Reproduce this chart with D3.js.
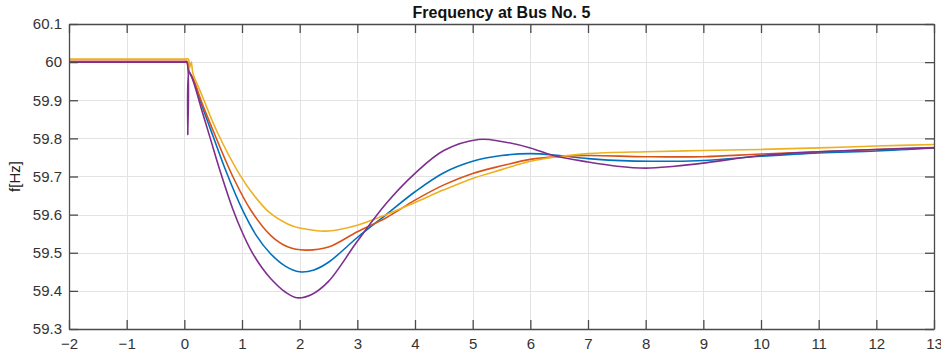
<!DOCTYPE html>
<head>
    <meta charset="utf-8">
    <script src="https://d3js.org/d3.v7.min.js"></script>
    <style>
        body { margin: 0; background: #fff; }
        text { font-family: "Liberation Sans", Arial, sans-serif; }
    </style>
</head>
<body>
    <script>
        ////////////// Data //////////////

        const x_ticks = [-2, -1, 0, 1, 2, 3, 4, 5, 6, 7, 8, 9, 10, 11, 12, 13]
        const y_ticks = [59.3, 59.4, 59.5, 59.6, 59.7, 59.8, 59.9, 60, 60.1]
        const y_tick_labels = ["59.3", "59.4", "59.5", "59.6", "59.7", "59.8", "59.9", "60", "60.1"]

        //time [s], frequency [Hz]
        const blue_t = [-2, -1, 0, 0.05, 0.08, 0.15, 0.3, 0.5, 0.72, 1.0, 1.25, 1.48, 1.75, 2.0, 2.25, 2.5, 3.0, 3.5, 4.0, 4.5, 5.0, 5.5, 6.0, 6.5, 7.0, 7.7, 8.5, 9.0, 10, 11, 12, 13]
        const blue_f = [60.0, 60.0, 60.0, 60.0, 59.975, 59.955, 59.888, 59.805, 59.715, 59.615, 59.545, 59.5, 59.465, 59.45, 59.455, 59.475, 59.54, 59.6, 59.66, 59.71, 59.74, 59.755, 59.76, 59.755, 59.747, 59.741, 59.74, 59.742, 59.753, 59.762, 59.767, 59.775]

        const orange_t = [-2, -1, 0, 0.05, 0.08, 0.15, 0.3, 0.5, 0.84, 1.16, 1.5, 1.8, 2.1, 2.5, 3.0, 3.5, 4.0, 4.5, 5.0, 5.5, 6.0, 6.5, 7.0, 8.0, 9.0, 10, 11, 12, 13]
        const orange_f = [60.002, 60.002, 60.002, 60.002, 59.975, 59.958, 59.895, 59.82, 59.7, 59.61, 59.545, 59.515, 59.507, 59.515, 59.555, 59.592, 59.638, 59.678, 59.708, 59.728, 59.745, 59.752, 59.755, 59.752, 59.752, 59.759, 59.765, 59.771, 59.776]

        const yellow_t = [-2, -1, 0, 0.07, 0.09, 0.12, 0.15, 0.3, 0.56, 0.96, 1.2, 1.48, 1.8, 2.0, 2.5, 3.0, 3.5, 4.0, 4.5, 5.0, 5.5, 6.0, 6.5, 7.0, 8.0, 9.0, 10, 11, 12, 13]
        const yellow_f = [60.008, 60.008, 60.008, 60.008, 59.985, 60.0, 59.97, 59.915, 59.82, 59.705, 59.652, 59.605, 59.575, 59.565, 59.557, 59.572, 59.6, 59.632, 59.665, 59.695, 59.718, 59.74, 59.752, 59.76, 59.765, 59.768, 59.771, 59.775, 59.78, 59.784]

        const purple_t = [-2, -1, 0, 0.04, 0.06, 0.08, 0.15, 0.3, 0.45, 0.63, 0.84, 1.0, 1.16, 1.35, 1.5, 1.75, 1.95, 2.2, 2.5, 3.0, 3.5, 4.0, 4.5, 5.1, 5.5, 6.0, 6.4, 7.0, 7.5, 8.0, 8.5, 9.0, 10, 11, 12, 13]
        const purple_f = [60.0, 60.0, 60.0, 60.0, 59.81, 59.975, 59.952, 59.875, 59.8, 59.71, 59.615, 59.555, 59.505, 59.46, 59.432, 59.397, 59.382, 59.39, 59.425, 59.53, 59.629, 59.708, 59.768, 59.797, 59.792, 59.775, 59.755, 59.738, 59.727, 59.722, 59.727, 59.735, 59.755, 59.765, 59.771, 59.775]

        const series = [
            { name: "blue", color: "#0072BD", t: blue_t, f: blue_f },
            { name: "orange", color: "#D95319", t: orange_t, f: orange_f },
            { name: "yellow", color: "#EDB120", t: yellow_t, f: yellow_f },
            { name: "purple", color: "#7E2F8E", t: purple_t, f: purple_f }
        ]

        ////////////// Create the SVG //////////////

        let width = 941,
            height = 356

        const margin = { left: 69, right: 7, top: 24, bottom: 27 }

        let svg = d3.select("body")
            .append("svg")
            .attr("width", width)
            .attr("height", height)

        ////////////// Create scales //////////////

        const x_scale = d3.scaleLinear()
            .domain([-2, 13])
            .range([margin.left, width - margin.right])

        const y_scale = d3.scaleLinear()
            .domain([59.3, 60.1])
            .range([height - margin.bottom, margin.top])

        const x0 = x_scale.range()[0], x1 = x_scale.range()[1]
        const y0 = y_scale.range()[0], y1 = y_scale.range()[1]

        ////////////// Grid //////////////

        let grid = svg.append("g").attr("class", "grid")
            .attr("stroke", "#e3e3e3")
            .attr("stroke-width", 1)

        grid.selectAll(".vgrid")
            .data(x_ticks)
            .enter().append("line")
            .attr("x1", d => Math.round(x_scale(d)) + 0.5)
            .attr("x2", d => Math.round(x_scale(d)) + 0.5)
            .attr("y1", y1).attr("y2", y0)

        grid.selectAll(".hgrid")
            .data(y_ticks)
            .enter().append("line")
            .attr("y1", d => Math.round(y_scale(d)) + 0.5)
            .attr("y2", d => Math.round(y_scale(d)) + 0.5)
            .attr("x1", x0).attr("x2", x1)

        ////////////// Lines //////////////

        const line = d3.line()
            .x(d => x_scale(d[0]))
            .y(d => y_scale(d[1]))
            .curve(d3.curveCatmullRom.alpha(0.5))

        svg.append("g").attr("class", "lines")
            .selectAll("path")
            .data(series)
            .enter().append("path")
            .attr("fill", "none")
            .attr("stroke", d => d.color)
            .attr("stroke-width", 1.6)
            .attr("d", d => line(d.t.map((t, i) => [t, d.f[i]])))

        ////////////// Axes (ticks inside, boxed) //////////////

        const tick_len = 9
        const axis_color = "#4a4a4a"

        svg.append("g")
            .attr("transform", `translate(0,${y0})`)
            .call(d3.axisBottom(x_scale).tickValues(x_ticks).tickSizeInner(-tick_len).tickSizeOuter(0).tickPadding(9))
        svg.append("g")
            .attr("transform", `translate(0,${y1})`)
            .call(d3.axisTop(x_scale).tickValues(x_ticks).tickSizeInner(-tick_len).tickSizeOuter(0).tickFormat(""))
        svg.append("g")
            .attr("transform", `translate(${x0},0)`)
            .call(d3.axisLeft(y_scale).tickValues(y_ticks).tickSizeInner(-tick_len).tickSizeOuter(0).tickPadding(7)
                .tickFormat((d, i) => y_tick_labels[i]))
        svg.append("g")
            .attr("transform", `translate(${x1},0)`)
            .call(d3.axisRight(y_scale).tickValues(y_ticks).tickSizeInner(-tick_len).tickSizeOuter(0).tickFormat(""))

        svg.selectAll(".domain, .tick line")
            .attr("stroke", axis_color)
            .attr("stroke-width", 1.3)

        svg.selectAll(".tick text")
            .attr("fill", "#333")
            .style("font-size", "15px")

        ////////////// Titles //////////////

        svg.append("text")
            .attr("x", (x0 + x1) / 2)
            .attr("y", 18)
            .attr("text-anchor", "middle")
            .style("font-size", "16px")
            .style("font-weight", "bold")
            .attr("fill", "#111")
            .text("Frequency at Bus No. 5")

        svg.append("text")
            .attr("transform", `translate(20,${(y0 + y1) / 2}) rotate(-90)`)
            .attr("text-anchor", "middle")
            .style("font-size", "15px")
            .attr("fill", "#222")
            .text("f[Hz]")

    </script>
</body>
